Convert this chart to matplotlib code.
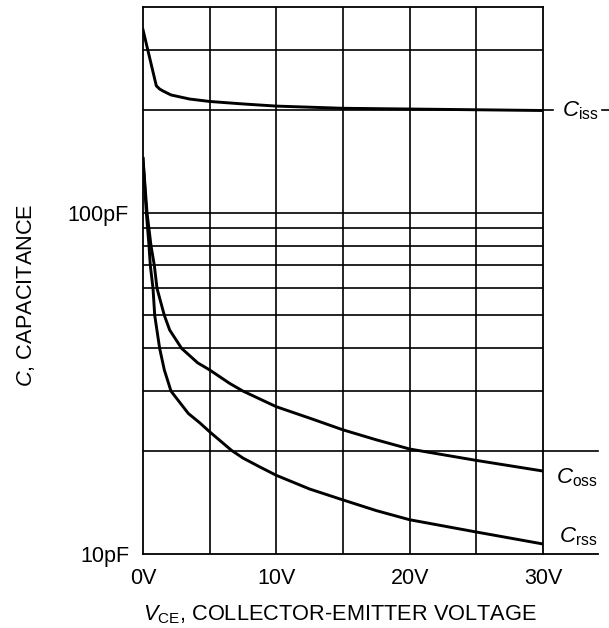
import matplotlib
matplotlib.use("Agg")
import matplotlib.pyplot as plt

plt.rcParams['font.family'] = 'Liberation Sans'
plt.rcParams['mathtext.fontset'] = 'custom'
plt.rcParams['mathtext.rm'] = 'Liberation Sans'
plt.rcParams['mathtext.it'] = 'Liberation Sans:italic'

# data (V, pF)
v_iss = [0, 1.0, 1.25, 1.5, 2.1, 3.5, 5, 7.5, 10, 15, 20, 25, 30]
c_iss = [343, 235, 230, 227, 221, 215, 211.5, 208, 205, 202, 201, 200, 199]

v_oss = [0, 0.3, 0.6, 0.85, 1.05, 1.6, 2.0, 2.9, 4.1, 5, 6.5, 7.5, 10, 12.5, 15, 17.5, 20, 25, 30]
c_oss = [144, 100, 80, 70, 60, 50, 45.3, 40, 36.3, 34.6, 31.6, 30, 27, 25.0, 23.1, 21.6, 20.3, 18.8, 17.5]

v_rss = [0, 0.25, 0.45, 0.55, 0.75, 0.88, 1.25, 1.6, 2.1, 3.4, 4.27, 5, 6.65, 7.5, 8.75, 10, 12.5, 15, 17.5, 20, 25, 30]
c_rss = [144, 100, 80, 70, 60, 50, 40, 34.6, 30, 25.8, 24.2, 22.8, 20.1, 19.1, 18.0, 17.0, 15.5, 14.4, 13.4, 12.6, 11.6, 10.7]

x_ticks = [0, 10, 20, 30]
x_ticklabels = ['0V', '10V', '20V', '30V']
y_ticks = [10, 100]
y_ticklabels = ['10pF', '100pF']
x_grid = [5, 10, 15, 20, 25]
y_grid = [20, 30, 40, 50, 60, 70, 80, 90, 100, 200, 300]

fig = plt.figure(figsize=(6.09, 6.28), dpi=100)
ax = fig.add_axes([0.2348, 0.1178, 0.6568, 0.8711])
ax.set_yscale('log')
ax.set_xlim(0, 30)
ax.set_ylim(10, 400)

for x in x_grid:
    ax.axvline(x, color='black', lw=1.2, zorder=1)
for y in y_grid:
    ax.axhline(y, color='black', lw=1.2, zorder=1)

ax.plot(v_iss, c_iss, color='black', lw=2.1, zorder=3, solid_joinstyle='round')
ax.plot(v_oss, c_oss, color='black', lw=2.1, zorder=3, solid_joinstyle='round')
ax.plot(v_rss, c_rss, color='black', lw=2.1, zorder=3, solid_joinstyle='round')

# gridlines running out to the curve labels
ax.plot([30, 30.75], [200, 200], color='black', lw=1.2, clip_on=False)
ax.plot([34.43, 34.95], [200, 200], color='black', lw=1.2, clip_on=False)
ax.plot([30, 34.1], [20, 20], color='black', lw=1.2, clip_on=False)
ax.plot([30, 34.1], [10, 10], color='black', lw=1.3, clip_on=False)

ax.text(31.4, 191, r'$\mathit{C}_{\mathrm{iss}}$', fontsize=16, ha='left', va='baseline')
ax.text(31.0, 16.1, r'$\mathit{C}_{\mathrm{oss}}$', fontsize=16, ha='left', va='baseline')
ax.text(31.2, 10.8, r'$\mathit{C}_{\mathrm{rss}}$', fontsize=16, ha='left', va='baseline')

ax.set_xticks(x_ticks)
ax.set_xticklabels(x_ticklabels)
ax.set_yticks(y_ticks)
ax.set_yticklabels(y_ticklabels)
ax.yaxis.set_minor_locator(matplotlib.ticker.NullLocator())
ax.tick_params(axis='both', length=0, labelsize=15.5)
ax.tick_params(axis='x', pad=10)
ax.tick_params(axis='y', pad=10)
for s in ax.spines.values():
    s.set_linewidth(1.3)

fig.text(0.043, 0.530, r'$\mathit{C}$, CAPACITANCE', rotation=90, fontsize=15.7,
         ha='center', va='center')
fig.text(0.558, 0.0127, r'$\mathit{V}_{\mathrm{CE}}$, COLLECTOR-EMITTER VOLTAGE',
         fontsize=15.7, ha='center', va='baseline')

fig.savefig('out.png', dpi=100, facecolor='white')
